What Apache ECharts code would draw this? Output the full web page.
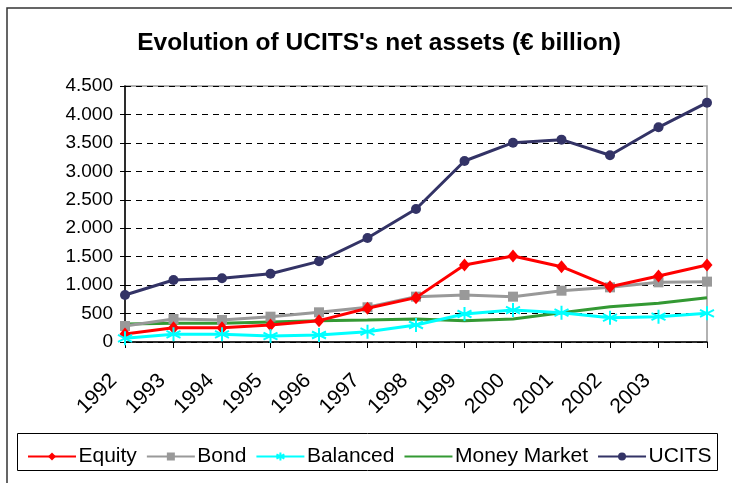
<!DOCTYPE html>
<html>
<head>
<meta charset="utf-8">
<script src="https://cdn.jsdelivr.net/npm/echarts@6/dist/echarts.min.js"></script>
<style>
html, body { margin: 0; padding: 0; background: #fff; }
#main { width: 732px; height: 483px; }
</style>
</head>
<body>
<div id="main"></div>
<script>
var years = ['1992', '1993', '1994', '1995', '1996', '1997', '1998', '1999', '2000', '2001', '2002', '2003', ''];
var equity = [140, 252, 252, 299, 375, 592, 780, 1354, 1512, 1324, 972, 1160, 1354];
var bond = [281, 404, 387, 445, 522, 610, 797, 826, 797, 902, 961, 1049, 1061];
var balanced = [64, 135, 135, 105, 123, 181, 299, 492, 562, 516, 428, 445, 504];
var moneyMarket = [316, 328, 328, 352, 375, 387, 404, 375, 404, 516, 621, 680, 779];
var ucits = [826, 1090, 1120, 1200, 1418, 1828, 2338, 3182, 3504, 3557, 3282, 3774, 4207];

var font = 'Liberation Sans, Arial, sans-serif';
var asterisk = 'path://M0,-10L0,10M-8.66,-5L8.66,5M-8.66,5L8.66,-5';

var myChart = echarts.init(document.getElementById('main'));

var option = {
    backgroundColor: '#fff',
    animation: false,
    title: {
        text: "Evolution of UCITS's net assets (€ billion)",
        left: 374,
        textAlign: 'center',
        top: 26,
        textStyle: { fontFamily: font, fontSize: 24.5, fontWeight: 'bold', color: '#000' }
    },
    graphic: [{
        type: 'rect',
        shape: { x: 7, y: 8, width: 740, height: 490 },
        style: { fill: 'none', stroke: '#333', lineWidth: 1.5 },
        silent: true
    }, {
        type: 'rect',
        shape: { x: 17.5, y: 433.5, width: 700, height: 37 },
        style: { fill: 'none', stroke: '#000', lineWidth: 1 },
        silent: true
    }],
    legend: {
        left: 22,
        top: 441,
        itemWidth: 48,
        itemHeight: 10,
        itemGap: 9,
        textStyle: { fontFamily: font, fontSize: 21, color: '#000', padding: [0, 0, 0, -2.5] },
        data: ['Equity', 'Bond', 'Balanced', { name: 'Money Market', itemStyle: { opacity: 0 } }, 'UCITS']
    },
    grid: {
        left: 125,
        right: 25,
        top: 86,
        bottom: 141,
        show: true,
        borderColor: '#999',
        borderWidth: 1.5
    },
    xAxis: {
        type: 'category',
        data: years,
        boundaryGap: false,
        axisLine: { lineStyle: { color: '#000', width: 1.5 } },
        axisTick: { show: true, length: 6, lineStyle: { color: '#000' }, alignWithLabel: true },
        axisLabel: {
            rotate: 45,
            interval: 0,
            margin: 24,
            padding: [0, 16, 0, 0],
            fontFamily: font,
            fontSize: 21,
            color: '#000'
        },
        splitLine: { show: false }
    },
    yAxis: {
        type: 'value',
        min: 0,
        max: 4500,
        interval: 500,
        axisLine: { show: true, lineStyle: { color: '#000', width: 1.5 } },
        axisTick: { show: true, length: 5, lineStyle: { color: '#000' } },
        axisLabel: {
            margin: 12,
            fontFamily: font,
            fontSize: 19,
            color: '#000',
            formatter: function (v) {
                return String(v).replace(/\B(?=(\d{3})+(?!\d))/g, '.');
            }
        },
        splitLine: { lineStyle: { color: '#000', type: [6, 5], width: 1 } }
    },
    series: [{
        name: 'Equity',
        type: 'line',
        data: equity,
        symbol: 'diamond',
        symbolSize: [11, 13],
        lineStyle: { color: '#FF0000', width: 3 },
        itemStyle: { color: '#FF0000' },
        z: 4
    }, {
        name: 'Bond',
        type: 'line',
        data: bond,
        symbol: 'rect',
        symbolSize: 10,
        lineStyle: { color: '#999999', width: 3 },
        itemStyle: { color: '#999999' },
        z: 3
    }, {
        name: 'Balanced',
        type: 'line',
        data: balanced,
        symbol: asterisk,
        symbolSize: 14,
        lineStyle: { color: '#00FFFF', width: 3 },
        itemStyle: { color: '#00FFFF', borderColor: '#00FFFF', borderWidth: 2 },
        z: 5
    }, {
        name: 'Money Market',
        type: 'line',
        data: moneyMarket,
        symbol: 'none',
        lineStyle: { color: '#339933', width: 3 },
        itemStyle: { color: '#339933' },
        z: 2
    }, {
        name: 'UCITS',
        type: 'line',
        data: ucits,
        symbol: 'circle',
        symbolSize: 10,
        lineStyle: { color: '#333366', width: 3 },
        itemStyle: { color: '#333366' },
        z: 6
    }]
};

myChart.setOption(option);
</script>
</body>
</html>
